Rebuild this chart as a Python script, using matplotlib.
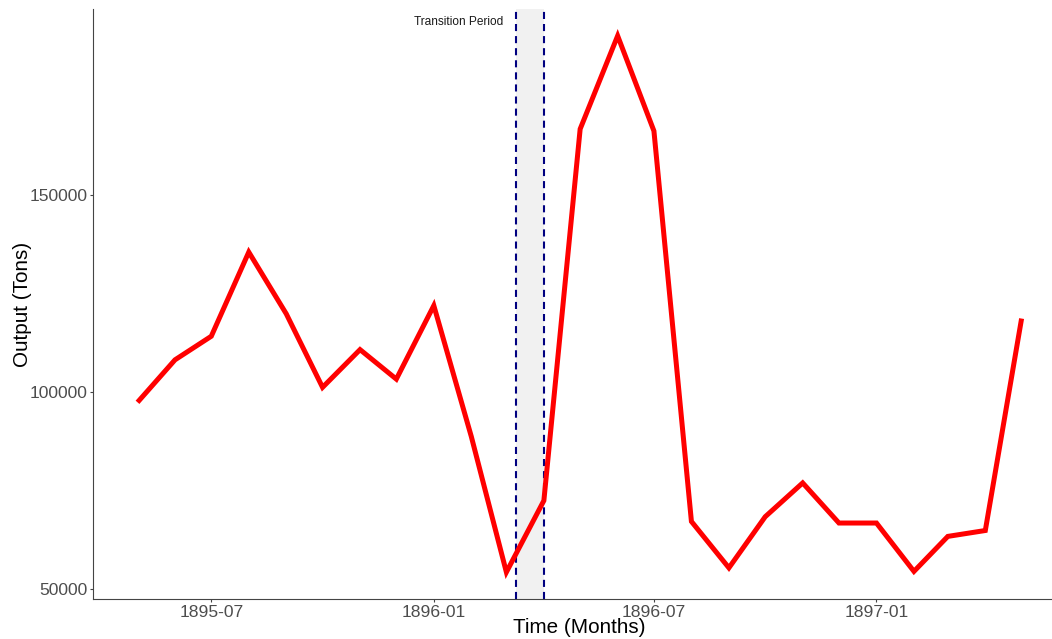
import numpy as np
import pandas as pd
import matplotlib
matplotlib.use("Agg")
import matplotlib.pyplot as plt
import matplotlib.dates as mdates
from matplotlib.ticker import FixedLocator, FuncFormatter

plt.rcParams["font.family"] = ["Liberation Sans", "DejaVu Sans"]

# Monthly output series
months = pd.date_range("1895-05-01", "1897-05-01", freq="MS")
output_tons = [
    97400, 108200, 114200, 135600, 119900, 101200, 110800, 103300,
    122000, 88700, 54200, 72400, 166900, 190600, 166400, 67100,
    55300, 68300, 76900, 66700, 66700, 54400, 63300, 64800, 118700,
]

transition_start = pd.Timestamp("1896-03-09")
transition_end = pd.Timestamp("1896-04-01")
transition_label = "Transition Period"

x_ticks = pd.to_datetime(["1895-07-01", "1896-01-01", "1896-07-01", "1897-01-01"])
y_ticks = [50000, 100000, 150000]

W, H = 1052, 639
fig = plt.figure(figsize=(W / 100, H / 100), dpi=100)
left_px, right_px, top_px, bottom_px = 93.3, 1065.8, 9.0, 599.0
ax = fig.add_axes([left_px / W, (H - bottom_px) / H,
                   (right_px - left_px) / W, (bottom_px - top_px) / H])

# padded limits around the data
xnum = mdates.date2num(months)
xpad = (xnum[-1] - xnum[0]) * 0.05
ax.set_xlim(xnum[0] - xpad, xnum[-1] + xpad)
ymin, ymax = min(output_tons), max(output_tons)
ypad = (ymax - ymin) * 0.05
ax.set_ylim(ymin - ypad, ymax + ypad)

# transition band
ax.axvspan(transition_start, transition_end, color="#f1f1f1", zorder=1, lw=0)
for d in (transition_start, transition_end):
    ax.axvline(d, color="#000080", lw=1.5, ls=(0, (3.4, 2.4)), zorder=2)

ax.plot(months, output_tons, color="#ff0000", lw=3.6, zorder=3,
        solid_joinstyle="miter", solid_capstyle="butt")

ax.annotate(transition_label, xy=(transition_start, 194000),
            xytext=(-8.9, 0), textcoords="offset points",
            ha="right", va="center", fontsize=8.6, color="#1a1a1a")

ax.xaxis.set_major_locator(FixedLocator(mdates.date2num(x_ticks)))
ax.xaxis.set_major_formatter(mdates.DateFormatter("%Y-%m"))
ax.yaxis.set_major_locator(FixedLocator(y_ticks))
ax.yaxis.set_major_formatter(FuncFormatter(lambda v, p: f"{int(v)}"))

for side in ("top", "right"):
    ax.spines[side].set_visible(False)
for side in ("left", "bottom"):
    ax.spines[side].set_color("#444444")
    ax.spines[side].set_linewidth(0.8)

ax.tick_params(axis="both", length=2.5, width=0.8, color="#444444",
               labelcolor="#4d4d4d", labelsize=12.6, pad=1.5)

ax.set_xlabel("Time (Months)", fontsize=14.9, color="black", va="center")
ax.xaxis.set_label_coords(0.5, (bottom_px - 627.7) / (bottom_px - top_px))
ax.set_ylabel("Output (Tons)", fontsize=14.9, color="black", va="center")
ax.yaxis.set_label_coords((22.5 - left_px) / (right_px - left_px), 0.5)

fig.savefig("out.png", dpi=100, facecolor="white")
